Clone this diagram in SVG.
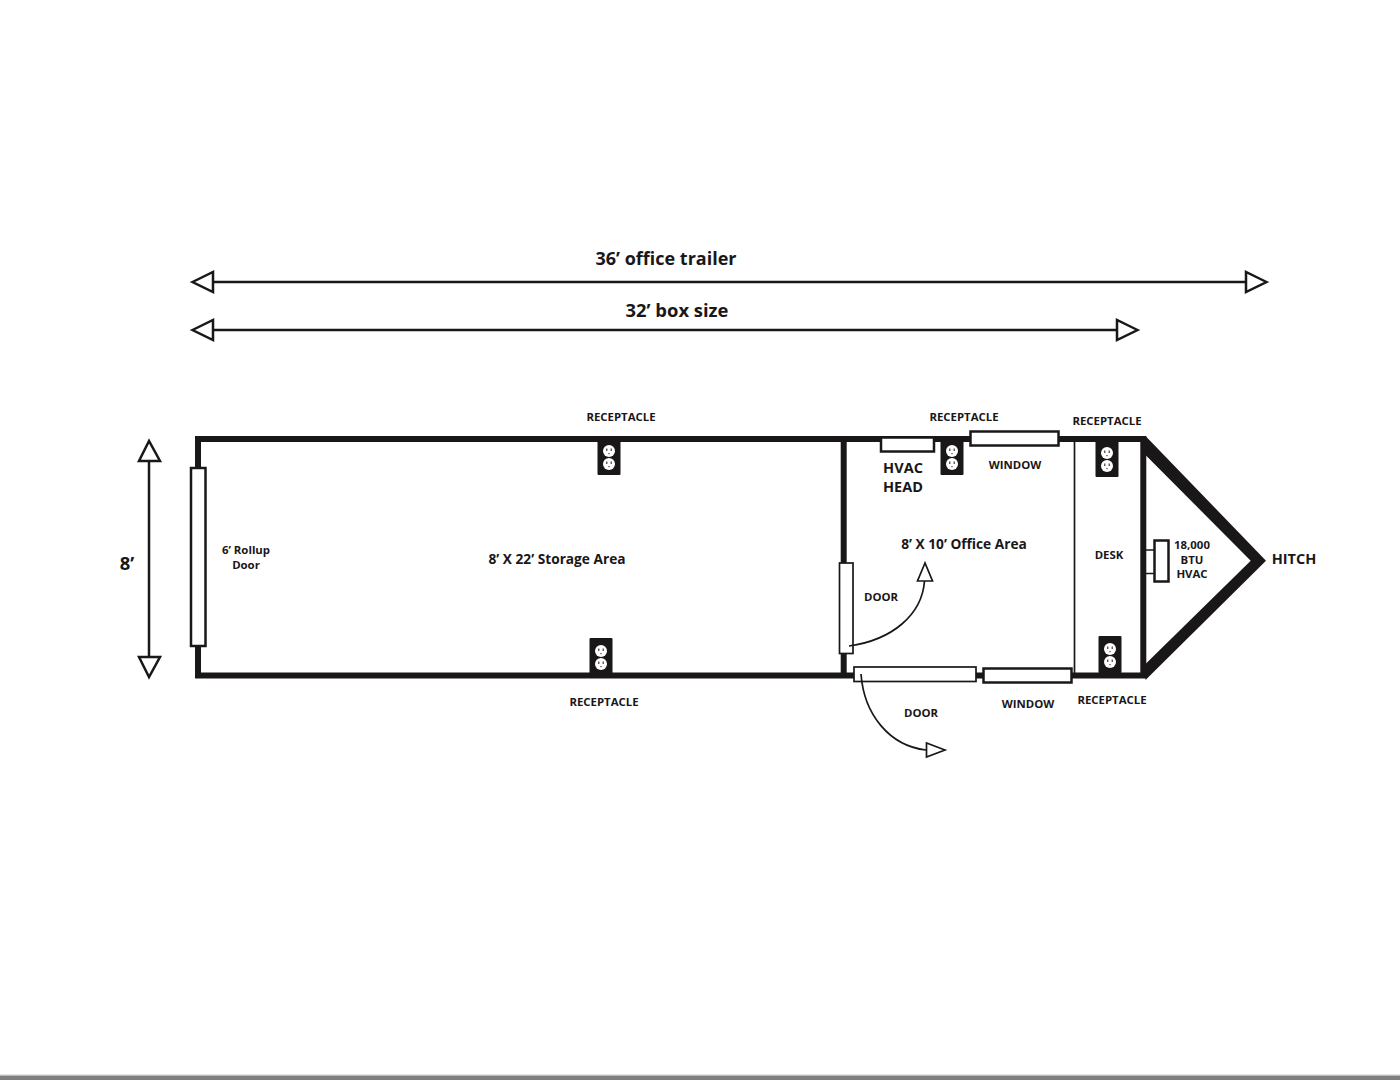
<svg xmlns="http://www.w3.org/2000/svg" xmlns:xlink="http://www.w3.org/1999/xlink" width="1400" height="1080" viewBox="0 0 1400 1080">
<style>
text{font-family:"Open Sans","Noto Sans","Liberation Sans",sans-serif;font-weight:700;fill:#1a1718;text-anchor:middle}
.s{font-size:11.4px}
.m{font-size:13.7px}
.l{font-size:14.5px}
.x{font-size:18.4px}
.wall{fill:none;stroke:#1a1718;stroke-width:6;stroke-linejoin:miter}
.thin{fill:none;stroke:#1a1718;stroke-width:1.7}
.dim{fill:none;stroke:#1a1718;stroke-width:2.5}
.head{fill:#fff;stroke:#1a1718;stroke-width:2.5}
.open{fill:#fff;stroke:#1a1718;stroke-width:2.5}
.openthin{fill:#fff;stroke:#1a1718;stroke-width:1.7}
</style>
<defs>
<g id="outlet">
<rect x="-11.500" y="-13" width="23" height="37" rx="1" fill="#1a1718"/>
<circle cx="0" cy="0" r="6" fill="#fff"/>
<circle cx="0" cy="13" r="6" fill="#fff"/>
<path d="M-2.200 -2.500V0M2.200 -2.500V0M0 2V3.200M-2.200 10.500V13M2.200 10.500V13M0 15V16.200" stroke="#1a1718" stroke-width="1" fill="none"/>
</g>
</defs>
<rect width="1400" height="1080" fill="#fff"/>
<rect y="1074" width="1400" height="1.500" fill="#e8e8e8"/>
<rect y="1075.500" width="1400" height="4.500" fill="#808080"/>

<g id="walls">
<path class="wall" d="M198 468V439H1143.300V675.500H1072M983 675.500H976M854 675.500H198V646"/>
<path class="wall" d="M843.700 439V563M843.700 654V675.500"/>
<path d="M1145.500 436L1266 560.700L1145.500 680V664L1250.700 560.700L1145.500 455Z" fill="#1a1718"/>
<path class="thin" d="M1074.500 439V675"/>
</g>

<g id="rollup-door"><rect class="open" x="191" y="468" width="14.500" height="178"/><text class="s"><tspan x="246" y="554">6’ Rollup</tspan><tspan x="246" y="569">Door</tspan></text></g>
<g id="storage-area"><text class="m" x="557" y="564">8’ X 22’ Storage Area</text></g>
<g id="office-area"><text class="m" x="964" y="549">8’ X 10’ Office Area</text></g>
<g id="hvac-head"><rect class="open" x="881" y="437.500" width="53" height="14"/><text class="l"><tspan x="903" y="473">HVAC</tspan><tspan x="903" y="492">HEAD</tspan></text></g>
<g id="window-top"><rect class="open" x="970.500" y="431.500" width="88" height="14"/><text class="s" x="1015" y="469">WINDOW</text></g>
<g id="window-bottom"><rect class="open" x="983.500" y="668.500" width="88" height="14"/><text class="s" x="1028" y="708">WINDOW</text></g>
<g id="door-interior"><rect class="openthin" x="839.500" y="563" width="13.500" height="90.500"/><text class="s" x="881" y="601">DOOR</text></g>
<g id="door-exterior"><rect class="openthin" x="854" y="667" width="122" height="14.500"/><text class="s" x="921" y="717">DOOR</text></g>
<g id="desk"><text class="s" x="1109" y="559">DESK</text></g>
<g id="hvac-unit"><path class="thin" d="M1146 550H1154M1146 573.500H1154"/><rect class="open" x="1154.500" y="540.500" width="14" height="41"/><text class="s"><tspan x="1192" y="549">18,000</tspan><tspan x="1192" y="564">BTU</tspan><tspan x="1192" y="578">HVAC</tspan></text></g>
<g id="hitch"><text class="l" x="1294" y="564">HITCH</text></g>
<g id="receptacle-1"><use href="#outlet" x="609" y="451"/><text class="s" x="621" y="421">RECEPTACLE</text></g>
<g id="receptacle-2"><use href="#outlet" x="601" y="651"/><text class="s" x="604" y="706">RECEPTACLE</text></g>
<g id="receptacle-3"><use href="#outlet" x="952" y="451"/><text class="s" x="964" y="421">RECEPTACLE</text></g>
<g id="receptacle-4"><use href="#outlet" x="1107" y="453"/><text class="s" x="1107" y="425">RECEPTACLE</text></g>
<g id="receptacle-5"><use href="#outlet" x="1110" y="649"/><text class="s" x="1112" y="704">RECEPTACLE</text></g>

<g id="connectors">
<path class="dim" d="M213 282H1246"/>
<path class="head" d="M192.500 282L213 272V292Z"/>
<path class="head" d="M1266.500 282L1246 272V292Z"/>
<path class="dim" d="M213 330H1117"/>
<path class="head" d="M192.500 330L213 320V340Z"/>
<path class="head" d="M1137.500 330L1117 320V340Z"/>
<path class="dim" d="M149 461V657"/>
<path class="head" d="M149 441L139 461H160Z"/>
<path class="head" d="M149 677L139 657H160Z"/>
<path class="thin" d="M849 646C892 640 922 615 924.500 581"/>
<path class="openthin" d="M925 563L917.500 581H932.500Z"/>
<path class="thin" d="M861 674C864 715 890 746 926 750"/>
<path class="openthin" d="M945 750L926.500 743V757Z"/>
</g>
<text class="x" x="666" y="265" style="font-size:18px">36’ office trailer</text>
<text class="x" x="677" y="317">32’ box size</text>
<text class="x" x="127" y="570">8’</text>
</svg>
